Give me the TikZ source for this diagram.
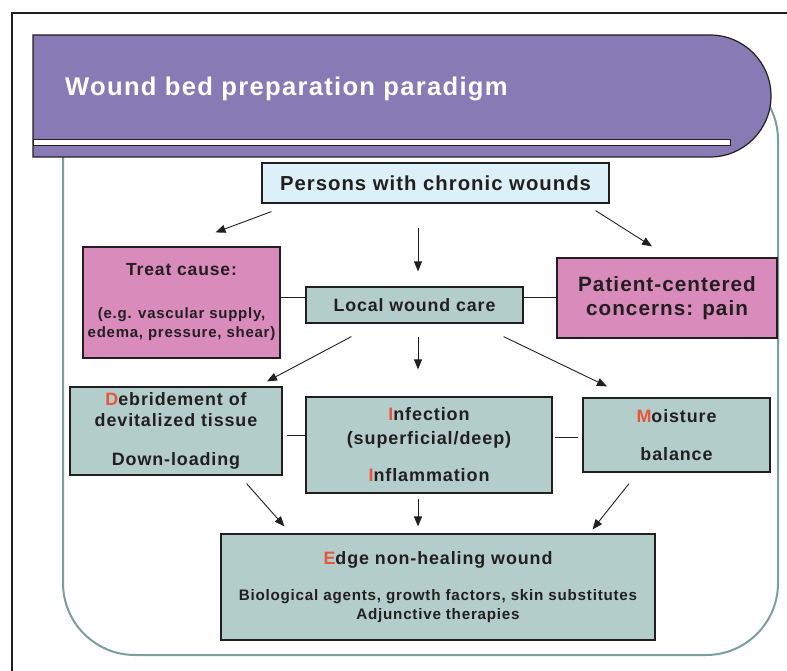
\documentclass[tikz,border=0pt]{standalone}
\usepackage{fontspec}
\setmainfont{Liberation Sans}[LetterSpace=5]
\usetikzlibrary{arrows.meta}
\definecolor{hdrpurple}{RGB}{135,122,181}
\definecolor{framegreen}{RGB}{122,160,155}
\definecolor{boxgreen}{RGB}{178,205,202}
\definecolor{boxpink}{RGB}{217,139,187}
\definecolor{boxblue}{RGB}{220,240,248}
\definecolor{ink}{RGB}{35,31,32}
\definecolor{wred}{RGB}{232,85,58}
\newcommand{\wfont}[2]{\bfseries\fontsize{#1}{#2}\selectfont}
\newcommand{\rl}[1]{\textcolor{wred}{#1}}

\begin{document}
\begin{tikzpicture}[x=1pt,y=-1pt,
    box/.style={draw=ink,line width=1.2pt,text=ink,align=center,inner sep=0pt},
    arr/.style={draw=ink,line width=0.9pt,-{Triangle[length=10pt,width=8pt]}},
    link/.style={draw=ink,line width=0.9pt}]
  \useasboundingbox (0,0) rectangle (787,671);
  \draw[ink,line width=2pt] (12,671) -- (12,13) -- (787,13);
  \draw[framegreen,line width=2pt,rounded corners=72pt] (63,68) rectangle (778,655);
  \filldraw[fill=hdrpurple,draw=ink,line width=1.2pt] (33,35) -- (710,35) arc[start angle=90,end angle=-90,radius=61pt] -- (33,157) -- cycle;
  \draw[ink,fill=white,line width=1pt] (33,140) rectangle (730,146);
  \node[anchor=base west,inner sep=0pt,text=white,font=\wfont{25.6}{30}] (title) at (65,96) {Wound bed preparation paradigm};

  \node[box,fill=boxblue,minimum width=347pt,minimum height=40pt,font=\wfont{20.3}{23}] (persons) at (435.5,183) {Persons with chronic wounds};
  \node[box,fill=boxpink,minimum width=197pt,minimum height=111pt,font=\wfont{15}{19}] (treat) at (181.5,302.5)
    {{\wfont{17.5}{19}Treat cause:}\\[24pt](e.g. vascular supply,\\edema, pressure, shear)};
  \node[box,fill=boxgreen,minimum width=217pt,minimum height=36pt,font=\wfont{17.8}{21}] (local) at (414.5,305) {Local wound care};
  \node[box,fill=boxpink,minimum width=220pt,minimum height=80pt,font=\wfont{20.7}{24}] (patient) at (667,298) {Patient-centered\\concerns: pain};

  \node[box,fill=boxgreen,minimum width=212pt,minimum height=88pt,font=\wfont{17.9}{21}] (debr) at (176,431)
    {\rl{D}ebridement of\\devitalized tissue\\[18pt]Down-loading};
  \node[box,fill=boxgreen,minimum width=246pt,minimum height=96pt,font=\wfont{18}{24}] (infect) at (429,445)
    {\rl{I}nfection\\(superficial/deep)\\[13pt]\rl{I}nflammation};
  \node[box,fill=boxgreen,minimum width=187pt,minimum height=74pt,font=\wfont{17.9}{38}] (moist) at (676.5,435)
    {\rl{M}oisture\\balance};
  \node[box,fill=boxgreen,minimum width=434pt,minimum height=106pt,font=\wfont{15.2}{19}] (edge) at (438,587)
    {{\wfont{17.9}{19}\rl{E}dge non-healing wound}\\[17pt]Biological agents, growth factors, skin substitutes\\Adjunctive therapies};

  \draw[arr] ([shift={(10,8)}]persons.south west) -- ([shift={(34,-14)}]treat.north);
  \draw[arr] ([shift={(-17.5,24)}]persons.south) -- ([shift={(3.5,-15)}]local.north);
  \draw[arr] ([shift={(-14,7)}]persons.south east) -- ([shift={(-15,-11)}]patient.north);
  \draw[link] ([yshift=8pt]local.west) -- ([yshift=8pt]local.west -| treat.east);
  \draw[link] ([yshift=8pt]local.east) -- ([yshift=8pt]local.east -| patient.west);
  \draw[arr] ([shift={(46,13)}]local.south west) -- ([shift={(91,-5)}]debr.north);
  \draw[arr] ([shift={(3.5,13)}]local.south) -- ([shift={(-11,-27)}]infect.north);
  \draw[arr] ([shift={(-20,13)}]local.south east) -- ([shift={(-69.5,-11)}]moist.north);
  \draw[link,shorten <=4pt] ([yshift=-4pt]debr.east) -- ([yshift=-4pt]debr.east -| infect.west);
  \draw[link,shorten <=2pt,shorten >=4pt] ([yshift=-2pt]moist.west -| infect.east) -- ([yshift=-2pt]moist.west);
  \draw[arr] ([shift={(-36,8)}]debr.south east) -- ([shift={(64,-7)}]edge.north west);
  \draw[arr] ([shift={(-11,5)}]infect.south) -- ([shift={(-20,-7)}]edge.north);
  \draw[arr] ([shift={(-47.5,11)}]moist.south) -- ([shift={(-63,-4)}]edge.north east);
\end{tikzpicture}
\end{document}
